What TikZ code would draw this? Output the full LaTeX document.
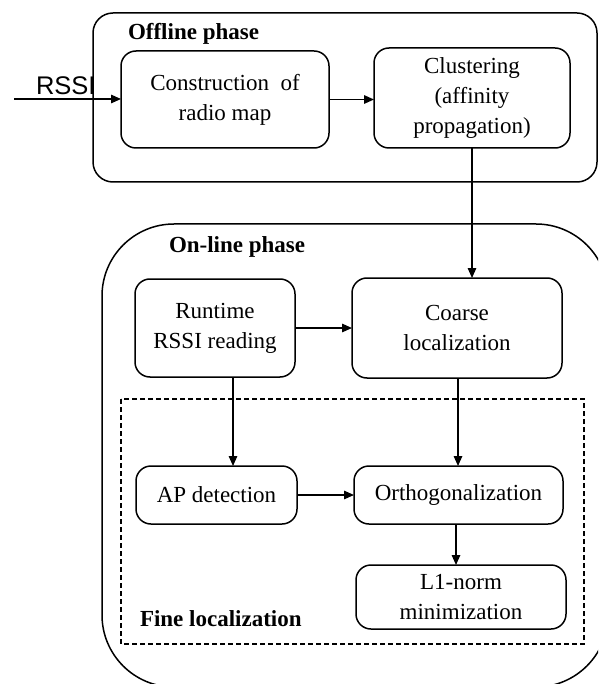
\documentclass[tikz,border=0pt]{standalone}
\usepackage{fontspec}
\setmainfont{Liberation Serif}
\newfontfamily\arialfont{Liberation Sans}
\usetikzlibrary{arrows.meta}
\begin{document}
\begin{tikzpicture}[x=1pt,y=-1pt,
  every node/.style={inner sep=0pt, outer sep=0pt},
  stepbox/.style={draw, line width=1.5pt, rounded corners=15pt, align=center,
    font=\fontsize{23}{30}\selectfont},
  phase/.style={draw, line width=1.5pt},
  title/.style={anchor=base west, font=\fontsize{23}{28}\selectfont\bfseries},
  arr/.style={line width=1.5pt, -{Triangle[length=10pt,width=8.5pt]}}]
\useasboundingbox (0,0) rectangle (598,684);
\begin{scope}
\clip (0,0) rectangle (598,684);
% phase frames
\draw[phase, rounded corners=20pt] (93,13) rectangle (597,182);
\draw[phase, rounded corners=72pt] (102,224) rectangle (608,687);
\draw[line width=1.4pt, dash pattern=on 5pt off 3pt] (121,399) rectangle (584,644);
\end{scope}

% titles
\node[title] (toff) at (128,40) {Offline phase};
\node[title] (ton) at (169,253) {On-line phase};
\node[title] (tfine) at (140,626) {Fine localization};
\node[anchor=base west, font=\arialfont\fontsize{25.5}{30}\selectfont] (rssi) at (36,95) {RSSI};

% processing steps
\node[stepbox, minimum width=208pt, minimum height=97pt] (constr) at (225,99.5) {Construction\ \ of\\radio map};
\node[stepbox, minimum width=196pt, minimum height=100pt] (clust) at (472,98) {Clustering\\(affinity\\propagation)};
\node[stepbox, minimum width=160pt, minimum height=98pt] (runtime) at (215,328) {Runtime\\RSSI reading};
\node[stepbox, minimum width=210pt, minimum height=100pt] (coarse) at (457,328) {Coarse\\localization};
\node[stepbox, minimum width=161pt, minimum height=58pt] (apdet) at (216.5,495) {AP detection};
\node[stepbox, minimum width=209pt, minimum height=58pt] (ortho) at (458.5,495) {Orthogonalization};
\node[stepbox, minimum width=210pt, minimum height=64pt] (lone) at (461,597) {L1-norm\\minimization};

% flow
\coordinate (rssiin) at (14,99);
\draw[arr] (rssiin) -- (rssiin -| constr.west);
\draw[arr] (constr.east) -- (clust.west |- constr.east);
\draw[arr] (clust.south) -- (coarse.north -| clust.south);
\draw[arr] (runtime.east) -- (coarse.west |- runtime.east);
\draw[arr] ([xshift=18pt]runtime.south) -- ([xshift=16.5pt]apdet.north);
\draw[arr] ([xshift=1pt]coarse.south) -- ([xshift=-0.5pt]ortho.north);
\draw[arr] (apdet.east) -- (ortho.west);
\draw[arr] ([xshift=-2.5pt]ortho.south) -- ([xshift=-5pt]lone.north);
\end{tikzpicture}
\end{document}
